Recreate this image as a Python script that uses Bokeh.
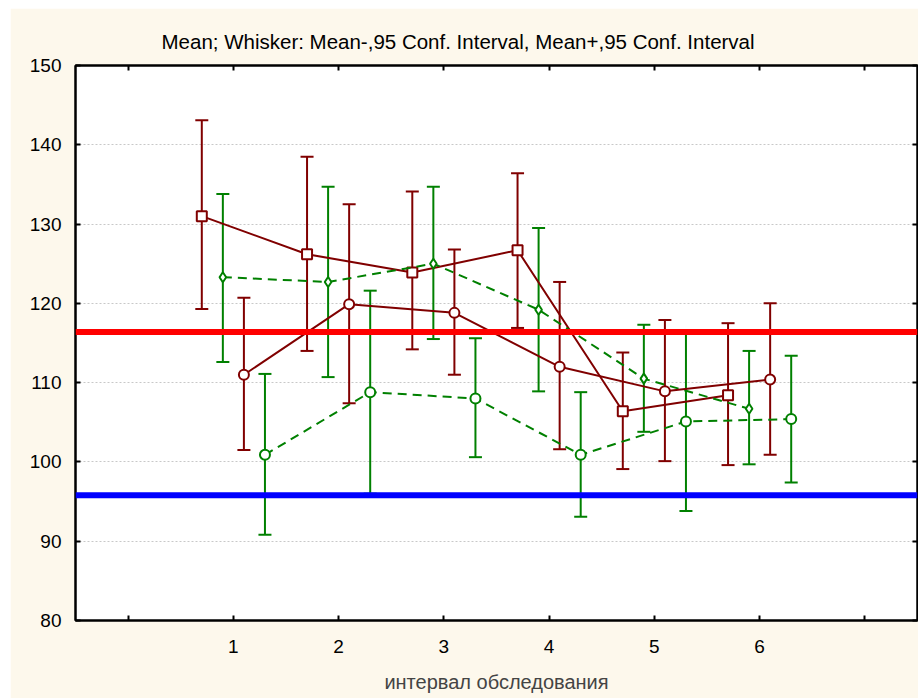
from bokeh.plotting import figure
from bokeh.models import (Range1d, LinearAxis, FixedTicker, Whisker, TeeHead,
                          ColumnDataSource, Span, Title, Spacer)
from bokeh.layouts import row, column
from bokeh.embed import file_html
from bokeh.resources import INLINE

# ---- data ----
intervals = [1, 2, 3, 4, 5, 6]

sq_mean  = [131.0, 126.2, 123.9, 126.7, 106.4, 108.4]
sq_lower = [119.3, 114.0, 114.2, 116.9, 99.1, 99.6]
sq_upper = [143.1, 138.5, 134.1, 136.4, 113.8, 117.5]

dm_mean  = [123.3, 122.7, 125.0, 119.2, 110.5, 106.7]
dm_lower = [112.6, 110.7, 115.5, 108.9, 103.8, 99.7]
dm_upper = [133.8, 134.7, 134.7, 129.5, 117.3, 114.0]

rc_mean  = [111.0, 119.9, 118.8, 112.0, 108.9, 110.4]
rc_lower = [101.5, 107.4, 111.0, 101.6, 100.1, 100.9]
rc_upper = [120.7, 132.5, 126.8, 122.7, 117.9, 120.0]

gc_mean  = [100.9, 108.8, 108.0, 100.9, 105.1, 105.4]
gc_lower = [90.8, 96.0, 100.6, 93.1, 93.8, 97.4]
gc_upper = [111.1, 121.6, 115.6, 108.8, 116.3, 113.4]

ref_high = 116.4
ref_low = 95.8

x_ticks = [0, 1, 2, 3, 4, 5, 6, 7]
y_ticks = [80, 90, 100, 110, 120, 130, 140, 150]

title_text = "Mean;  Whisker: Mean-,95 Conf. Interval, Mean+,95 Conf. Interval"
x_label = "интервал обследования"

# ---- style ----
FONT = "Liberation Sans"
BG = "#FDF8EC"
RED = "#800000"
GREEN = "#008000"

p = figure(width=908, height=690, output_backend="svg", toolbar_location=None,
           x_range=Range1d(-0.5, 7.5), y_range=Range1d(80, 150),
           x_axis_location=None, y_axis_location=None,
           min_border_left=65, min_border_right=1, min_border_top=57,
           min_border_bottom=78, background_fill_color="white",
           border_fill_color=BG, outline_line_color="black",
           outline_line_width=2)

p.title = Title(text=title_text, align="left", offset=86,
                text_font=FONT, text_font_size="20.5px", text_font_style="normal",
                text_color="black", standoff=26)

def style_axis(ax, labels=True):
    ax.axis_line_color = "black"
    ax.axis_line_width = 2
    ax.major_tick_in = 5
    ax.major_tick_out = 0
    ax.major_tick_line_color = "black"
    ax.major_tick_line_width = 2
    ax.minor_tick_line_color = None
    if labels:
        ax.major_label_text_font = FONT
        ax.major_label_text_font_size = "19px"
        ax.major_label_text_color = "black"
    else:
        ax.major_label_text_color = None
        ax.major_label_text_font_size = "1px"
        ax.major_label_standoff = 0

left = LinearAxis(ticker=FixedTicker(ticks=y_ticks))
style_axis(left)
left.major_label_standoff = 14
p.add_layout(left, "left")

bottom = LinearAxis(ticker=FixedTicker(ticks=x_ticks),
                    major_label_overrides={0: "", 7: ""})
style_axis(bottom)
bottom.major_label_standoff = 19
bottom.axis_label = x_label
bottom.axis_label_text_font = FONT
bottom.axis_label_text_font_size = "20px"
bottom.axis_label_text_font_style = "normal"
bottom.axis_label_standoff = 15
p.add_layout(bottom, "below")

right = LinearAxis(ticker=FixedTicker(ticks=y_ticks))
style_axis(right, labels=False)
p.add_layout(right, "right")

top = LinearAxis(ticker=FixedTicker(ticks=x_ticks))
style_axis(top, labels=False)
p.add_layout(top, "above")

p.xgrid.grid_line_color = None
p.ygrid.ticker = FixedTicker(ticks=y_ticks)
p.ygrid.grid_line_color = "#c8c8c8"
p.ygrid.grid_line_dash = "2 2"
p.ygrid.grid_line_width = 1

series = [
    (sq_mean, sq_lower, sq_upper, -0.3, RED, "solid", "square", 10),
    (dm_mean, dm_lower, dm_upper, -0.1, GREEN, "9 6", "diamond", 10),
    (rc_mean, rc_lower, rc_upper, 0.1, RED, "solid", "circle", 10),
    (gc_mean, gc_lower, gc_upper, 0.3, GREEN, "9 6", "circle", 10),
]

for mean, lo, hi, off, col, dash, marker, size in series:
    xs = [i + off for i in intervals]
    src = ColumnDataSource(dict(x=xs, y=mean, lower=lo, upper=hi))
    w = Whisker(base="x", lower="lower", upper="upper", source=src,
                line_color=col, line_width=2,
                upper_head=TeeHead(size=13, line_color=col, line_width=2),
                lower_head=TeeHead(size=13, line_color=col, line_width=2))
    p.add_layout(w)
    p.line("x", "y", source=src, line_color=col, line_width=2, line_dash=dash)
    p.scatter("x", "y", source=src, marker=marker, size=size,
              fill_color="white", line_color=col, line_width=2)

p.add_layout(Span(location=ref_high, dimension="width", line_color="#FF0000",
                  line_width=6))
p.add_layout(Span(location=ref_low, dimension="width", line_color="#0000FF",
                  line_width=6))

layout = row(Spacer(width=10), column(Spacer(height=8), p))

open("out.html", "w").write(file_html(layout, INLINE))
